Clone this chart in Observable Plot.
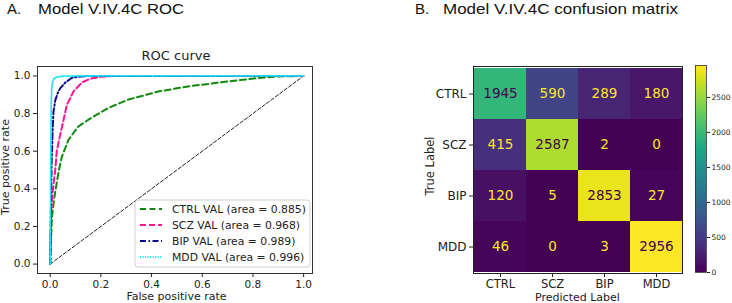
<!DOCTYPE html>
<html><head><meta charset="utf-8">
<script src="https://cdn.jsdelivr.net/npm/d3@7"></script>
<script src="https://cdn.jsdelivr.net/npm/@observablehq/plot@0.6"></script>
<style>
body{margin:0;background:#fff;}
#wrap{position:relative;width:732px;height:303px;overflow:hidden;background:#fff;}
#wrap > svg, #wrap > figure{position:absolute;margin:0;}
</style></head><body><div id="wrap"></div>
<script>
// ---------- data ----------
const classes = ["CTRL", "SCZ", "BIP", "MDD"];
const aucs = [0.885, 0.968, 0.989, 0.996];

const ctrlFpr = [0, 0.003, 0.007, 0.016, 0.033, 0.046, 0.072, 0.11, 0.165, 0.23, 0.31, 0.43, 0.55, 0.65, 0.75, 0.83, 0.9, 1.0];
const ctrlTpr = [0, 0.12, 0.25, 0.35, 0.49, 0.57, 0.66, 0.73, 0.78, 0.83, 0.875, 0.918, 0.945, 0.962, 0.978, 0.99, 0.997, 1.0];

const sczFpr = [0, 0.004, 0.008, 0.013, 0.02, 0.026, 0.035, 0.046, 0.066, 0.092, 0.125, 0.158, 0.2, 0.25, 0.4, 1.0];
const sczTpr = [0, 0.28, 0.36, 0.42, 0.5, 0.6, 0.66, 0.725, 0.847, 0.917, 0.965, 0.985, 0.995, 0.999, 1.0, 1.0];

const bipFpr = [0, 0.003, 0.006, 0.01, 0.013, 0.02, 0.03, 0.04, 0.06, 0.086, 0.12, 0.15, 1.0];
const bipTpr = [0, 0.3, 0.55, 0.72, 0.81, 0.87, 0.91, 0.935, 0.965, 0.99, 0.997, 1.0, 1.0];

const mddFpr = [0, 0.002, 0.004, 0.006, 0.01, 0.015, 0.02, 0.03, 0.05, 0.1, 1.0];
const mddTpr = [0, 0.5, 0.85, 0.93, 0.97, 0.985, 0.99, 0.995, 0.998, 1.0, 1.0];

const diagFpr = [0, 1];
const diagTpr = [0, 1];

const rocTicks = [0, 0.2, 0.4, 0.6, 0.8, 1.0];

// rows = true label, columns = predicted label
const confCTRL = [1945, 590, 289, 180];
const confSCZ  = [415, 2587, 2, 0];
const confBIP  = [120, 5, 2853, 27];
const confMDD  = [46, 0, 3, 2956];
const cbarTicks = [0, 500, 1000, 1500, 2000, 2500];

// ---------- styles ----------
const lineStyle = {
  CTRL: {stroke: "#0f8a0f", dash: "6,3.5", width: 2},
  SCZ:  {stroke: "#ff1493", dash: "6,3", width: 2},
  BIP:  {stroke: "#0a0a8c", dash: "6,2.5,1.5,2.5", width: 2},
  MDD:  {stroke: "#22e8f5", dash: "1.2,1.3", width: 1.8}
};
const font = "'DejaVu Sans', sans-serif";
const textColor = "#222";

// ---------- build tables ----------
const rocSeries = [
  {cls: "CTRL", fpr: ctrlFpr, tpr: ctrlTpr},
  {cls: "SCZ", fpr: sczFpr, tpr: sczTpr},
  {cls: "BIP", fpr: bipFpr, tpr: bipTpr},
  {cls: "MDD", fpr: mddFpr, tpr: mddTpr}
];
const rocRows = rocSeries.flatMap(s => s.fpr.map((f, i) => ({cls: s.cls, fpr: f, tpr: s.tpr[i]})));
const diagRows = diagFpr.map((f, i) => ({fpr: f, tpr: diagTpr[i]}));

const confRows = [confCTRL, confSCZ, confBIP, confMDD];
const cells = confRows.flatMap((row, i) => row.map((v, j) => ({t: classes[i], p: classes[j], v})));
const vmin = d3.min(cells, d => d.v), vmax = d3.max(cells, d => d.v);
const thr = (vmin + vmax) / 2;

const wrap = document.getElementById("wrap");

// ---------- ROC plot ----------
const roc = Plot.plot({
  width: 330, height: 303,
  marginLeft: 37, marginRight: 18, marginTop: 66, marginBottom: 30,
  style: {fontFamily: font, fontSize: "10.5px", color: textColor, background: "transparent", overflow: "visible"},
  x: {domain: [-0.05, 1.035], label: null},
  y: {domain: [-0.05, 1.05], label: null},
  marks: [
    Plot.line(diagRows, {x: "fpr", y: "tpr", stroke: "#222", strokeWidth: 1, strokeDasharray: "3.5,2"}),
    ...classes.map(c => Plot.line(rocRows.filter(d => d.cls === c), {
      x: "fpr", y: "tpr", stroke: lineStyle[c].stroke, strokeWidth: lineStyle[c].width, strokeDasharray: lineStyle[c].dash
    })),
    Plot.frame({stroke: "#333", strokeWidth: 1}),
    Plot.axisX({ticks: rocTicks, tickFormat: d3.format(".1f"), tickSize: 4, tickPadding: 3, label: null}),
    Plot.axisY({ticks: rocTicks, tickFormat: d3.format(".1f"), tickSize: 4, tickPadding: 3, label: null})
  ]
});
roc.style.left = "0px"; roc.style.top = "0px";
wrap.appendChild(roc);

// ---------- confusion matrix ----------
const cm = Plot.plot({
  width: 310, height: 303,
  marginLeft: 93, marginRight: 8, marginTop: 66, marginBottom: 30,
  style: {fontFamily: font, fontSize: "11.5px", color: textColor, background: "transparent", overflow: "visible"},
  x: {domain: classes, padding: 0, label: null},
  y: {domain: classes, padding: 0, label: null},
  color: {type: "linear", scheme: "viridis", domain: [vmin, vmax]},
  marks: [
    Plot.cell(cells, {x: "p", y: "t", fill: "v"}),
    Plot.text(cells.filter(d => d.v <= thr), {x: "p", y: "t", text: d => String(d.v), fill: "#fde725", fontSize: 13.5}),
    Plot.text(cells.filter(d => d.v > thr), {x: "p", y: "t", text: d => String(d.v), fill: "#440154", fontSize: 13.5}),
    Plot.frame({stroke: "#222", strokeWidth: 1}),
    Plot.axisX({tickSize: 4, tickPadding: 2, label: null}),
    Plot.axisY({tickSize: 4, tickPadding: 3, label: null, fontSize: 12})
  ]
});
cm.style.left = "380px"; cm.style.top = "0px";
wrap.appendChild(cm);

// ---------- colorbar ----------
const nSlices = 150;
const sliceStep = (vmax - vmin) / nSlices;
const slices = d3.range(nSlices).map(i => ({y1: vmin + i * sliceStep, y2: vmin + (i + 1) * sliceStep, v: vmin + (i + 0.5) * sliceStep}));
const cb = Plot.plot({
  width: 42, height: 303,
  marginLeft: 5, marginRight: 26, marginTop: 65, marginBottom: 31,
  style: {fontFamily: font, fontSize: "7.5px", color: textColor, background: "transparent", overflow: "visible"},
  y: {domain: [vmin, vmax], label: null},
  color: {type: "linear", scheme: "viridis", domain: [vmin, vmax]},
  marks: [
    Plot.rect(slices, {y1: "y1", y2: "y2", fill: "v", shapeRendering: "crispEdges"}),
    Plot.frame({stroke: "#333", strokeWidth: 0.8}),
    Plot.axisY({anchor: "right", ticks: cbarTicks, tickFormat: d3.format("d"), tickSize: 3, tickPadding: 2, label: null})
  ]
});
cb.style.left = "690px"; cb.style.top = "0px";
wrap.appendChild(cb);

// ---------- overlay texts & legend ----------
const ov = d3.select(wrap).append("svg")
  .attr("width", 732).attr("height", 303)
  .style("left", "0px").style("top", "0px").style("position", "absolute");

const hd = "'Liberation Sans', Arial, sans-serif";
function txt(x, y, s, opt = {}) {
  const t = ov.append("text").attr("x", x).attr("y", y).text(s)
    .attr("font-family", opt.family || font).attr("font-size", opt.size || 11)
    .attr("fill", opt.fill || textColor).attr("text-anchor", opt.anchor || "start");
  if (opt.rotate) t.attr("transform", `rotate(-90,${x},${y})`).attr("dy", "0.35em");
  if (opt.len) t.attr("textLength", opt.len).attr("lengthAdjust", "spacingAndGlyphs");
  return t;
}
txt(7, 13.5, "A.", {family: hd, size: 15, fill: "#111"});
txt(38, 13.5, "Model V.IV.4C ROC", {family: hd, size: 15, fill: "#111", len: 146});
txt(415, 13.5, "B.", {family: hd, size: 15, fill: "#111"});
txt(443, 13.5, "Model V.IV.4C confusion matrix", {family: hd, size: 15, fill: "#111", len: 235});

txt(176, 60, "ROC curve", {size: 13, anchor: "middle"});
txt(176.5, 300, "False positive rate", {size: 11, anchor: "middle"});
txt(5.5, 167, "True positive rate", {size: 11, anchor: "middle", rotate: true});
txt(577.5, 300.5, "Predicted Label", {size: 11, anchor: "middle"});
txt(429.5, 166, "True Label", {size: 11.5, anchor: "middle", rotate: true});

// legend
const lg = ov.append("g");
lg.append("rect").attr("x", 135).attr("y", 200).attr("width", 175).attr("height", 67)
  .attr("rx", 3).attr("fill", "white").attr("fill-opacity", 0.85).attr("stroke", "#d0d0d0").attr("stroke-width", 1);
classes.forEach((c, i) => {
  const cy = 209 + i * 16;
  lg.append("line").attr("x1", 140).attr("x2", 162).attr("y1", cy).attr("y2", cy)
    .attr("stroke", lineStyle[c].stroke).attr("stroke-width", lineStyle[c].width).attr("stroke-dasharray", lineStyle[c].dash);
  txt(172, cy + 4, `${c} VAL (area = ${aucs[i].toFixed(3)})`, {size: 10.8});
});
</script></body></html>
